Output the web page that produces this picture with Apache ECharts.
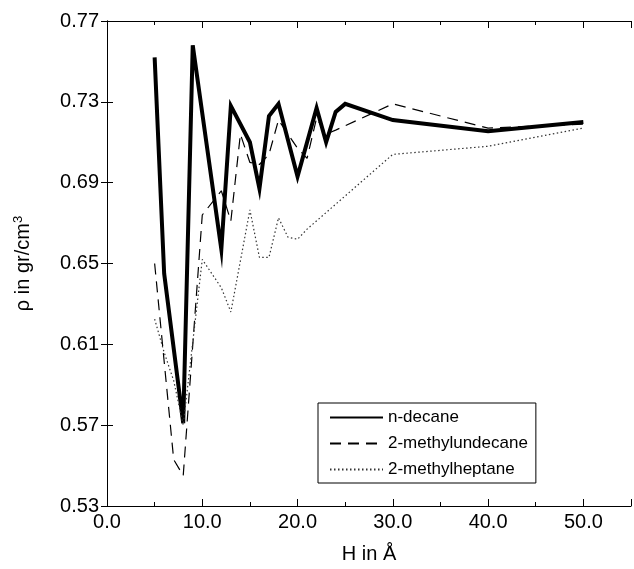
<!DOCTYPE html>
<html>
<head>
<meta charset="utf-8">
<script src="https://cdn.jsdelivr.net/npm/echarts@6/dist/echarts.min.js"></script>
<style>
  html, body { margin: 0; padding: 0; background: #fff; }
  #chart { width: 634px; height: 569px; }
</style>
</head>
<body>
<div id="chart"></div>
<script>
// H in Angstrom and density per liquid
const decaneH = [5, 6, 8, 9, 12, 13, 15, 16, 17, 18, 20, 22, 23, 24, 25, 30, 40, 50];
const decaneRho = [0.752, 0.645, 0.571, 0.758, 0.657, 0.728, 0.710, 0.687, 0.723, 0.729, 0.693, 0.727, 0.710, 0.725, 0.729, 0.721, 0.7155, 0.720];

const undecaneH = [5, 7, 8, 10, 12, 13, 14, 15, 16, 17, 18, 19, 20, 21, 22, 23, 24, 30, 40, 50];
const undecaneRho = [0.650, 0.553, 0.545, 0.674, 0.686, 0.671, 0.714, 0.700, 0.699, 0.704, 0.721, 0.714, 0.707, 0.702, 0.722, 0.714, 0.716, 0.729, 0.717, 0.719];

const heptaneH = [5, 6, 7, 8, 10, 12, 13, 15, 16, 17, 18, 19, 20, 21, 30, 40, 50];
const heptaneRho = [0.6225, 0.606, 0.592, 0.570, 0.652, 0.638, 0.626, 0.6765, 0.653, 0.653, 0.6726, 0.663, 0.662, 0.667, 0.704, 0.708, 0.717];

const seriesNames = ['n-decane', '2-methylundecane', '2-methylheptane'];

const pairs = (xs, ys) => xs.map((x, i) => [x, ys[i]]);

const font = 'Liberation Sans, Arial, Helvetica, sans-serif';
const axisLine = {show: true, lineStyle: {color: '#000', width: 1}};

const chart = echarts.init(document.getElementById('chart'));

const option = {
    animation: false,
    backgroundColor: '#fff',
    grid: {left: 107, right: 1, top: 21, bottom: 52},
    legend: {
        orient: 'vertical',
        left: 318,
        top: 403,
        data: seriesNames,
        itemWidth: 53,
        itemHeight: 10,
        itemGap: 9,
        padding: [6, 8, 5, 11],
        borderColor: '#000',
        borderWidth: 1,
        backgroundColor: '#fff',
        itemStyle: {opacity: 0},
        textStyle: {fontFamily: font, fontSize: 17, color: '#000'}
    },
    xAxis: [
        {
            type: 'value', min: 0, max: 55, interval: 10, position: 'bottom',
            name: 'H in Å', nameLocation: 'middle', nameGap: 38,
            nameTextStyle: {fontFamily: font, fontSize: 20, color: '#000'},
            axisLine: axisLine,
            axisTick: {show: true, inside: true, length: 7, lineStyle: {color: '#000'}},
            axisLabel: {
                fontFamily: font, fontSize: 20, color: '#000', margin: 6,
                formatter: v => (v > 50 ? '' : v.toFixed(1))
            },
            splitLine: {show: false}
        },
        {
            type: 'value', min: 0, max: 55, interval: 5, position: 'bottom',
            axisLine: {show: false},
            axisTick: {show: true, inside: true, length: 4, lineStyle: {color: '#000'}},
            axisLabel: {show: false}, splitLine: {show: false}
        },
        {
            type: 'value', min: 0, max: 55, interval: 10, position: 'top',
            axisLine: axisLine,
            axisTick: {show: true, inside: true, length: 7, lineStyle: {color: '#000'}},
            axisLabel: {show: false}, splitLine: {show: false}
        },
        {
            type: 'value', min: 0, max: 55, interval: 5, position: 'top',
            axisLine: {show: false},
            axisTick: {show: true, inside: true, length: 4, lineStyle: {color: '#000'}},
            axisLabel: {show: false}, splitLine: {show: false}
        }
    ],
    yAxis: [
        {
            type: 'value', min: 0.53, max: 0.77, interval: 0.04, position: 'left',
            name: '{a|ρ in gr/cm}{s|3}', nameLocation: 'middle', nameGap: 72, nameRotate: 90,
            nameTextStyle: {
                rich: {
                    a: {fontFamily: font, fontSize: 20, color: '#000'},
                    s: {fontFamily: font, fontSize: 13, color: '#000', verticalAlign: 'top', padding: [0, 0, 10, 0]}
                }
            },
            axisLine: axisLine,
            axisTick: {show: true, inside: true, length: 6, lineStyle: {color: '#000'}},
            axisLabel: {
                fontFamily: font, fontSize: 20, color: '#000', margin: 8,
                formatter: v => v.toFixed(2)
            },
            splitLine: {show: false}
        },
        {
            type: 'value', min: 0.53, max: 0.77, interval: 0.04, position: 'right',
            axisLine: axisLine,
            axisTick: {show: true, inside: true, length: 6, lineStyle: {color: '#000'}},
            axisLabel: {show: false}, splitLine: {show: false}
        }
    ],
    series: [
        {
            name: seriesNames[0], type: 'line', data: pairs(decaneH, decaneRho),
            symbol: 'none', color: '#000',
            lineStyle: {color: '#000', width: 4, type: 'solid', join: 'miter'}
        },
        {
            name: seriesNames[1], type: 'line', data: pairs(undecaneH, undecaneRho),
            symbol: 'none', color: '#000',
            lineStyle: {color: '#000', width: 1.2, type: [11, 7]}
        },
        {
            name: seriesNames[2], type: 'line', data: pairs(heptaneH, heptaneRho),
            symbol: 'none', color: '#333',
            lineStyle: {color: '#333', width: 1.2, type: [1.5, 2.5]}
        }
    ]
};

chart.setOption(option);
</script>
</body>
</html>
